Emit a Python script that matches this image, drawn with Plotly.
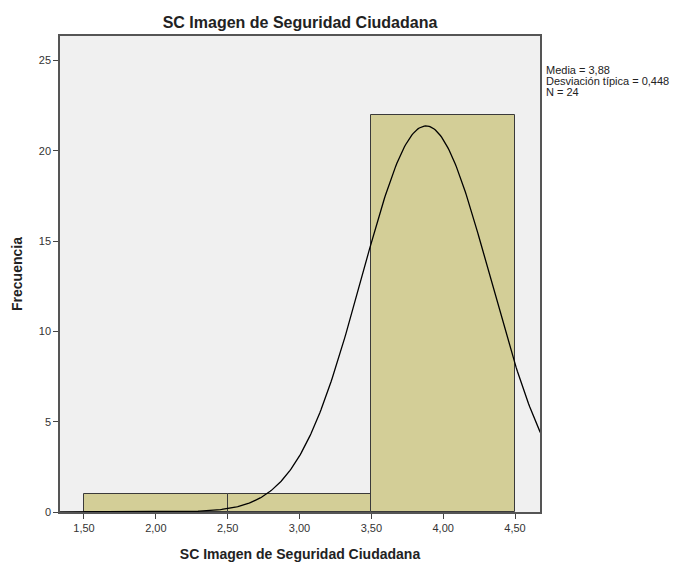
import numpy as np
import plotly.graph_objects as go

# histogram bins (centers) and counts
bin_centers = [2.0, 3.0, 4.0]
bin_counts = [1, 1, 22]
bin_width = 1.0

media = 3.88
desv = 0.448
n = 24

x_ticks = [1.5, 2.0, 2.5, 3.0, 3.5, 4.0, 4.5]
y_ticks = [0, 5, 10, 15, 20, 25]

stats_lines = ['Media = 3,88', 'Desviación típica = 0,448', 'N = 24']

# normal curve scaled to the histogram
xs = np.linspace(1.30, 4.75, 400)
ys = n * bin_width / (desv * np.sqrt(2 * np.pi)) * np.exp(-0.5 * ((xs - media) / desv) ** 2)

fig = go.Figure()
fig.add_trace(go.Bar(x=bin_centers, y=bin_counts, width=bin_width,
                     marker=dict(color='#D3CE97', line=dict(color='#3a3a3a', width=1)),
                     hoverinfo='x+y'))
fig.add_trace(go.Scatter(x=xs, y=ys, mode='lines', line=dict(color='black', width=1.3),
                         hoverinfo='skip'))

# page body adds ~8px offset, so margins are shifted to compensate
fig.update_layout(
    width=691, height=564,
    margin=dict(l=52, r=159, t=28, b=60),
    paper_bgcolor='white', plot_bgcolor='#F0F0F0',
    showlegend=False, bargap=0,
    separators=',.',
    font=dict(family='Arial, Liberation Sans, sans-serif', color='#222'),
    title=dict(text='<b>SC Imagen de Seguridad Ciudadana</b>', x=0.5, xref='paper',
               y=0.975, yanchor='middle', font=dict(size=16, color='#222')),
)
fig.update_xaxes(range=[1.333, 4.674], tickvals=x_ticks, tickformat='.2f',
                 ticks='outside', ticklen=5, tickcolor='#444', automargin=False,
                 showgrid=False, zeroline=False, showline=True, linecolor='#555', linewidth=1.5,
                 mirror=True, tickfont=dict(size=11, color='#333'),
                 title=dict(text='<b>SC Imagen de Seguridad Ciudadana</b>', font=dict(size=14, color='#222'),
                            standoff=16))
fig.update_yaxes(range=[0, 26.35], tickvals=y_ticks,
                 ticks='outside', ticklen=5, tickcolor='#444', automargin=False,
                 showgrid=False, zeroline=False, showline=True, linecolor='#555', linewidth=1.5,
                 mirror=True, tickfont=dict(size=11, color='#333'),
                 title=dict(text='<b>Frecuencia</b>', font=dict(size=14, color='#222'), standoff=13))

for i, line in enumerate(stats_lines):
    fig.add_annotation(x=1.0, xref='paper', xshift=4, y=0.945, yshift=-11 * i, yref='paper',
                       xanchor='left', yanchor='top', align='left', showarrow=False,
                       text=line, font=dict(size=11, color='#222'))

fig.write_html("out.html")
